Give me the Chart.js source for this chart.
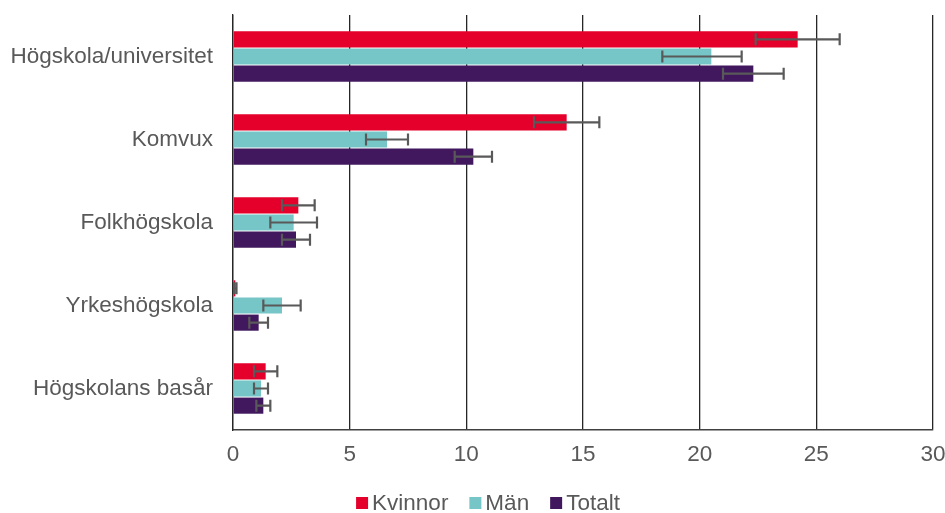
<!DOCTYPE html>
<html><head><meta charset="utf-8">
<script src="https://cdn.jsdelivr.net/npm/chart.js@4/dist/chart.umd.min.js"></script>
<style>html,body{margin:0;padding:0;background:#fff}#wrap{width:945px;height:513px}</style>
</head><body><div id="wrap"><canvas id="c"></canvas></div>
<script>
const categories = ["Högskola/universitet","Komvux","Folkhögskola","Yrkeshögskola","Högskolans basår"];
const kvinnor = [24.2, 14.3, 2.8, 0.1, 1.4];
const kvinnorLow = [22.4, 12.9, 2.1, 0.05, 0.9];
const kvinnorHigh = [26.0, 15.7, 3.5, 0.15, 1.9];
const man = [20.5, 6.6, 2.6, 2.1, 1.2];
const manLow = [18.4, 5.7, 1.6, 1.3, 0.9];
const manHigh = [21.8, 7.5, 3.6, 2.9, 1.5];
const totalt = [22.3, 10.3, 2.7, 1.1, 1.3];
const totaltLow = [21.0, 9.5, 2.1, 0.7, 1.0];
const totaltHigh = [23.6, 11.1, 3.3, 1.5, 1.6];
const xTicks = [0,5,10,15,20,25,30];

const FONT = '"Liberation Sans", Arial, sans-serif';
const FS = 22.5;

const errorPlugin = {
  id: 'errbars',
  afterDatasetsDraw(chart) {
    const ctx = chart.ctx;
    const xs = chart.scales.x;
    chart.data.datasets.forEach((ds, di) => {
      const meta = chart.getDatasetMeta(di);
      meta.data.forEach((bar, i) => {
        const lo = xs.getPixelForValue(ds.errLow[i]);
        const hi = xs.getPixelForValue(ds.errHigh[i]);
        const y = bar.y;
        const h = 6;
        ctx.save();
        ctx.strokeStyle = '#595959';
        ctx.lineWidth = 2.2;
        ctx.beginPath();
        ctx.moveTo(lo, y); ctx.lineTo(hi, y);
        ctx.moveTo(lo, y - h); ctx.lineTo(lo, y + h);
        ctx.moveTo(hi, y - h); ctx.lineTo(hi, y + h);
        ctx.stroke();
        ctx.restore();
      });
    });
  }
};

const legendPlugin = {
  id: 'customLegend',
  afterDraw(chart) {
    const ctx = chart.ctx;
    ctx.save();
    ctx.font = FS + 'px ' + FONT;
    ctx.textBaseline = 'middle';
    const box = 12, gapBoxText = 4, gapItems = 21;
    const items = chart.data.datasets.map(ds => ({label: ds.label, color: ds.backgroundColor, w: ctx.measureText(ds.label).width}));
    const total = items.reduce((a, it) => a + box + gapBoxText + it.w, 0) + gapItems * (items.length - 1);
    let x = 488 - total / 2;
    const y = 503;
    items.forEach(it => {
      ctx.fillStyle = it.color;
      ctx.fillRect(x, y - box / 2, box, box);
      x += box + gapBoxText;
      ctx.fillStyle = '#595959';
      ctx.fillText(it.label, x, y + 1);
      x += it.w + gapItems;
    });
    ctx.restore();
  }
};

Chart.defaults.font.family = FONT;
Chart.defaults.color = '#595959';

new Chart(document.getElementById('c'), {
  type: 'bar',
  data: {
    labels: categories,
    datasets: [
      {label: 'Kvinnor', data: kvinnor, errLow: kvinnorLow, errHigh: kvinnorHigh, backgroundColor: '#E4002B'},
      {label: 'Män', data: man, errLow: manLow, errHigh: manHigh, backgroundColor: '#76C6C8'},
      {label: 'Totalt', data: totalt, errLow: totaltLow, errHigh: totaltHigh, backgroundColor: '#41185E'}
    ]
  },
  options: {
    indexAxis: 'y',
    responsive: true,
    maintainAspectRatio: false,
    animation: false,
    devicePixelRatio: 1,
    datasets: { bar: { categoryPercentage: 0.62, barPercentage: 0.94 } },
    layout: { padding: { top: 15, right: 12, left: 0, bottom: 33 } },
    scales: {
      x: {
        min: 0, max: 30,
        afterBuildTicks(s) { s.ticks = xTicks.map(v => ({value: v})); },
        grid: { color: '#262626', lineWidth: 1.3, drawTicks: false },
        border: { display: true, color: '#404040', width: 1.5 },
        ticks: { font: { size: FS }, color: '#595959', padding: 11 },
        afterFit(s) { s.height = 50; s.paddingLeft = 0; s.paddingRight = 0; }
      },
      y: {
        grid: { display: false, drawTicks: false },
        border: { display: true, color: '#262626', width: 1.3 },
        ticks: { font: { size: FS }, color: '#595959', padding: 20 },
        afterFit(s) { s.width = 233; s.paddingTop = 0; s.paddingBottom = 0; }
      }
    },
    plugins: {
      legend: { display: false },
      tooltip: { enabled: false }
    }
  },
  plugins: [errorPlugin, legendPlugin]
});
</script></body></html>
